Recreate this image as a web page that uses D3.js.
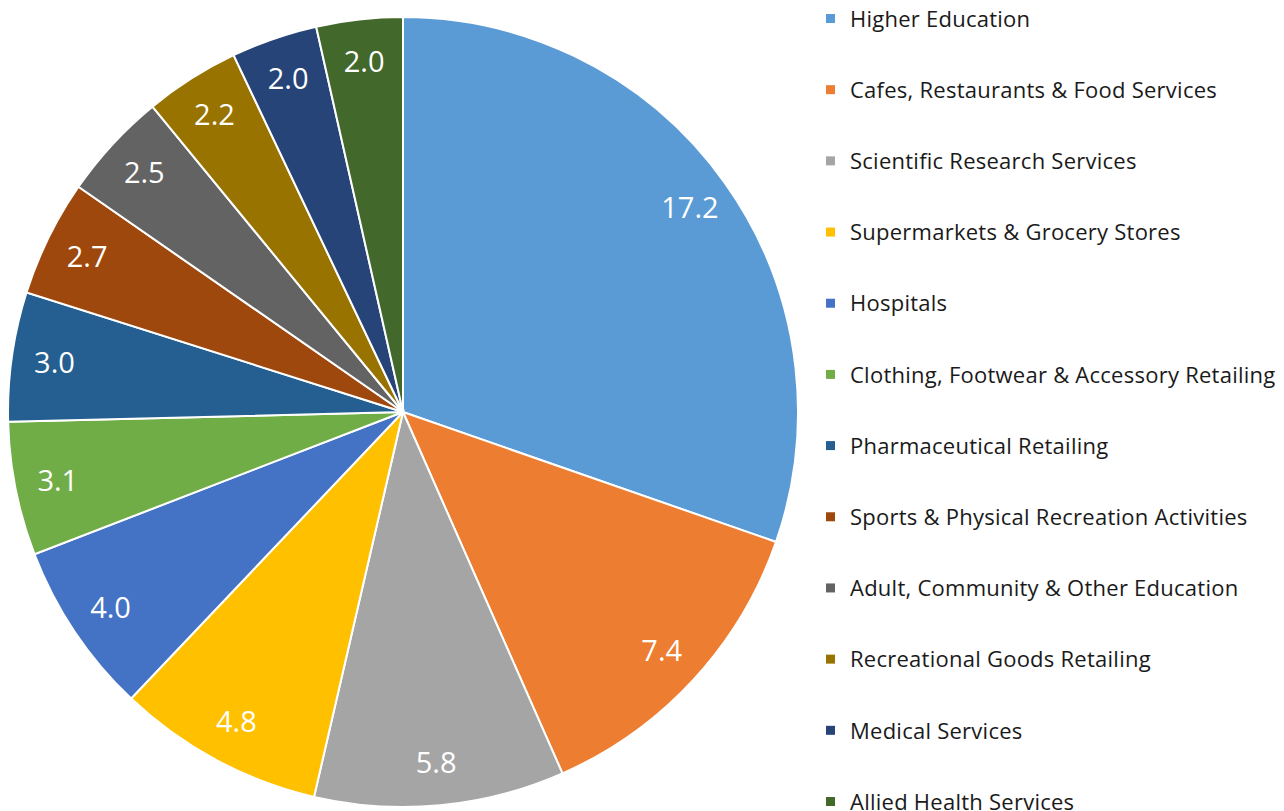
<!DOCTYPE html>
<html>
<head>
<meta charset="utf-8">
<script src="https://cdn.jsdelivr.net/npm/d3@7"></script>
<style>
  body { margin: 0; background: #fff; }
  text { font-family: "Open Sans", sans-serif; }
</style>
</head>
<body>
<div id="chart"></div>
<script>
// data
let categories = ["Higher Education", "Cafes, Restaurants & Food Services", "Scientific Research Services",
    "Supermarkets & Grocery Stores", "Hospitals", "Clothing, Footwear & Accessory Retailing",
    "Pharmaceutical Retailing", "Sports & Physical Recreation Activities", "Adult, Community & Other Education",
    "Recreational Goods Retailing", "Medical Services", "Allied Health Services"];
let values = [17.2, 7.4, 5.8, 4.8, 4.0, 3.1, 3.0, 2.7, 2.5, 2.2, 2.0, 2.0];
let palette = ["#5b9bd5", "#ed7d31", "#a5a5a5", "#ffc000", "#4472c4", "#70ad47",
    "#255e91", "#9e480e", "#636363", "#997300", "#264478", "#43682b"];

let width = 1284, height = 811;
let cx = 403, cy = 412, radius = 395;

let svg = d3.select("#chart")
    .append("svg")
    .attr("width", width)
    .attr("height", height);

let color = d3.scaleOrdinal().domain(categories).range(palette);

let data = categories.map(function (c, i) { return { name: c, value: values[i] } });

let pie = d3.pie()
    .sort(null)
    .value(function (d) { return d.value });

let arc = d3.arc().innerRadius(0).outerRadius(radius);
let labelArc = d3.arc().innerRadius(352).outerRadius(352);

let g = svg.append("g")
    .attr("transform", "translate(" + cx + "," + cy + ")");

// slices
g.selectAll("path")
    .data(pie(data))
    .enter()
    .append("path")
    .attr("d", arc)
    .style("fill", function (d) { return color(d.data.name) })
    .attr("stroke", "#fff")
    .attr("stroke-width", 2);

// value labels
g.selectAll("text.val")
    .data(pie(data))
    .enter()
    .append("text")
    .attr("class", "val")
    .attr("transform", function (d) { return "translate(" + labelArc.centroid(d) + ")" })
    .attr("text-anchor", "middle")
    .attr("dy", "0.35em")
    .style("fill", "#fff")
    .style("font-size", "29px")
    .text(function (d) { return d.data.value.toFixed(1) });

// legend
let legendY = d3.scalePoint().domain(categories).range([19, 802]);

svg.selectAll("legendDots")
    .data(categories)
    .enter()
    .append("rect")
    .attr("x", 826)
    .attr("y", function (d) { return legendY(d) - 5 })
    .attr("width", 9)
    .attr("height", 9)
    .style("fill", function (d) { return color(d) });

svg.selectAll("legendLabels")
    .data(categories)
    .enter()
    .append("text")
    .attr("x", 850)
    .attr("y", function (d) { return legendY(d) })
    .attr("dy", "0.35em")
    .style("fill", "#1a1a1a")
    .style("font-size", "22px")
    .style("letter-spacing", "0.25px")
    .text(function (d) { return d });
</script>
</body>
</html>
